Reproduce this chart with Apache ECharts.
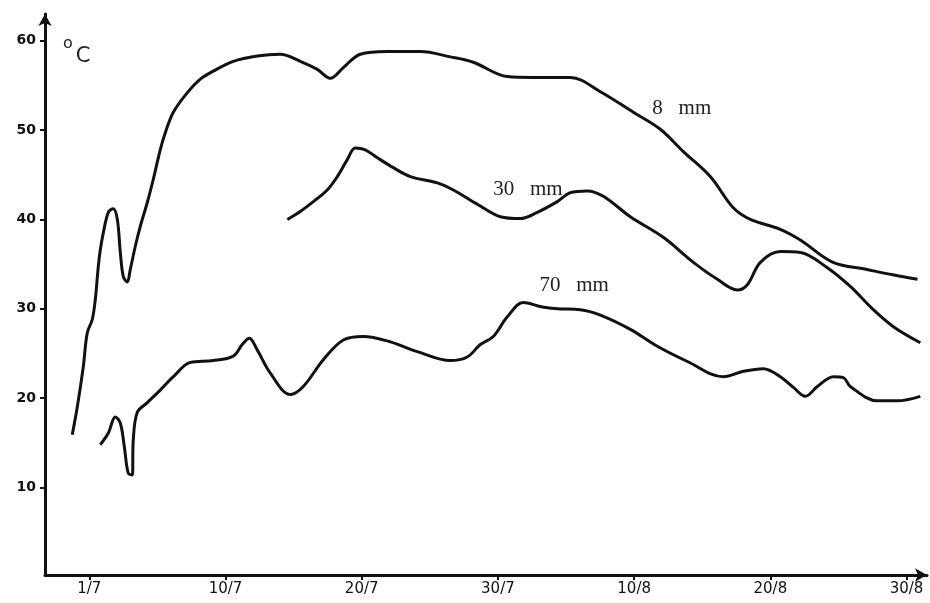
<!DOCTYPE html>
<html>
<head>
<meta charset="utf-8">
<script src="https://cdn.jsdelivr.net/npm/echarts@6/dist/echarts.min.js"></script>
<style>
  html, body { margin: 0; padding: 0; background: #fff; }
  #chart { width: 930px; height: 603px; }
</style>
</head>
<body>
<div id="chart"></div>
<script>
// x positions: 1/7 = 0, 10/7 = 10, 20/7 = 20 ... 30/8 = 60 (tick spacing on the original)
const tickPos = [0, 10, 20, 30, 40, 50, 60];
const dateLabels = ['1/7', '10/7', '20/7', '30/7', '10/8', '20/8', '30/8'];
const tempTicks = [10, 20, 30, 40, 50, 60];

// 8 mm
const x8 = [-1.25, -0.88, -0.44, -0.15, 0.22, 0.44, 0.66, 0.81, 1.03, 1.40, 1.76, 2.06, 2.28, 2.50, 2.79, 3.01, 3.38, 3.74, 4.26, 4.70,
  5.21, 5.58, 6.17, 7.20, 8.15, 9.10, 10.57, 12.33, 14.02, 15.49, 16.74, 17.69, 18.65, 19.90, 21.88, 24.30, 26.51, 28.19, 30.69, 32.60,
  35.32, 37.52, 39.94, 41.92, 43.61, 45.59, 47.28, 48.53, 50.73, 52.2, 54.6, 57.1, 59.0, 60.8];
const t8 = [15.9, 19.0, 23.5, 27.3, 28.8, 31.0, 34.7, 36.6, 38.5, 40.8, 41.2, 40.0, 36.3, 33.6, 33.0, 34.4, 37.0, 39.2, 41.9, 44.5,
  47.8, 49.7, 52.0, 54.2, 55.7, 56.6, 57.7, 58.3, 58.5, 57.7, 56.8, 55.8, 57.0, 58.5, 58.8, 58.8, 58.2, 57.6, 56.0, 55.9,
  55.9, 54.3, 52.0, 50.1, 47.6, 44.8, 41.3, 40.0, 38.9, 37.7, 35.2, 34.4, 33.8, 33.3];

// 30 mm
const x30 = [14.54, 15.49, 16.45, 17.47, 18.21, 18.94, 19.53, 20.26, 21.15, 22.32, 23.57, 25.55, 26.73, 28.49, 30.18, 31.64, 32.89,
  34.36, 35.32, 36.56, 37.74, 39.72, 42.14, 44.35, 46.11, 47.58, 48.31, 49.27, 50.73, 52.20, 54.18, 55.87, 57.56, 59.03, 61.01];
const t30 = [40.0, 40.9, 42.0, 43.3, 44.8, 46.7, 48.0, 47.8, 46.9, 45.8, 44.8, 44.1, 43.3, 41.7, 40.3, 40.1, 40.8,
  42.0, 43.0, 43.2, 42.6, 40.3, 38.0, 35.2, 33.3, 32.1, 32.7, 35.2, 36.4, 36.3, 34.6, 32.5, 29.9, 28.0, 26.2];

// 70 mm
const x70 = [0.81, 1.40, 1.91, 2.28, 2.57, 2.86, 3.16, 3.23, 3.52, 4.26, 5.21, 6.17, 7.42, 9.10, 10.57, 11.23, 11.75, 12.33, 13.29,
  14.76, 15.71, 17.18, 18.65, 20.12, 22.10, 24.08, 26.51, 27.75, 28.71, 29.66, 30.69, 31.86, 33.26, 34.36, 36.05, 37.52, 39.72,
  41.70, 43.91, 46.55, 48.02, 49.49, 50.73, 51.69, 52.57, 53.45, 54.63, 55.36, 55.87, 57.86, 59.32, 61.01];
const t70 = [14.8, 16.1, 17.9, 17.2, 14.6, 11.6, 11.4, 15.3, 18.4, 19.5, 20.9, 22.4, 24.0, 24.2, 24.7, 26.0, 26.7, 25.4, 22.8,
  20.4, 21.3, 24.3, 26.5, 26.9, 26.3, 25.2, 24.2, 24.6, 26.0, 26.9, 29.1, 30.7, 30.2, 30.0, 29.9, 29.3, 27.7,
  25.8, 24.1, 22.4, 23.0, 23.3, 22.4, 21.2, 20.2, 21.3, 22.4, 22.3, 21.3, 19.7, 19.7, 20.2];

const seriesNames = ['8   mm', '30   mm', '70   mm'];
const nameAt = [[43.5, 52.4], [32.2, 43.4], [35.6, 32.6]];

const zip = (xs, ys) => xs.map((x, i) => [x, ys[i]]);

const chart = echarts.init(document.getElementById('chart'));

const ink = '#111';

const makeSeries = (name, data, at) => ({
  name: name,
  type: 'line',
  data: data,
  smooth: 0.35,
  symbol: 'none',
  lineStyle: { color: ink, width: 3 },
  markPoint: {
    symbol: 'circle',
    symbolSize: 0,
    data: [{ coord: at }],
    label: {
      show: true,
      formatter: name,
      color: '#222',
      fontFamily: 'Liberation Serif',
      fontSize: 21,
    },
  },
});

chart.setOption({
  backgroundColor: '#fff',
  animation: false,
  grid: { left: 45, right: 3, top: 14, bottom: 28 },
  xAxis: {
    type: 'value',
    min: -3.25,
    max: 61.5,
    splitLine: { show: false },
    axisLine: {
      onZero: false,
      lineStyle: { color: ink, width: 3 },
      symbol: ['none', 'arrow'],
      symbolSize: [10, 12],
    },
    axisTick: {
      customValues: tickPos,
      length: 5,
      lineStyle: { color: ink, width: 2 },
    },
    axisLabel: {
      customValues: tickPos,
      formatter: (v) => dateLabels[tickPos.indexOf(v)],
      color: ink,
      fontFamily: 'DejaVu Sans',
      fontSize: 15,
      margin: 7,
    },
  },
  yAxis: {
    type: 'value',
    min: 0.2,
    max: 63,
    splitLine: { show: false },
    axisLine: {
      onZero: false,
      lineStyle: { color: ink, width: 3 },
      symbol: ['none', 'arrow'],
      symbolSize: [10, 12],
    },
    axisTick: {
      customValues: tempTicks,
      length: 5,
      lineStyle: { color: ink, width: 2 },
    },
    axisLabel: {
      customValues: tempTicks,
      color: ink,
      fontFamily: 'DejaVu Sans',
      fontWeight: 'bold',
      fontSize: 14,
      margin: 9,
    },
  },
  graphic: [
    {
      type: 'text',
      left: 63,
      top: 36,
      style: {
        text: '{o|o}{c|C}',
        rich: {
          o: { fontSize: 16, fontFamily: 'DejaVu Sans', fill: '#222', verticalAlign: 'top', padding: [0, 3, 8, 0] },
          c: { fontSize: 21, fontFamily: 'DejaVu Sans', fill: '#222', padding: [10, 0, 0, 0] },
        },
      },
    },
  ],
  series: [
    makeSeries(seriesNames[0], zip(x8, t8), nameAt[0]),
    makeSeries(seriesNames[1], zip(x30, t30), nameAt[1]),
    makeSeries(seriesNames[2], zip(x70, t70), nameAt[2]),
  ],
});
</script>
</body>
</html>
